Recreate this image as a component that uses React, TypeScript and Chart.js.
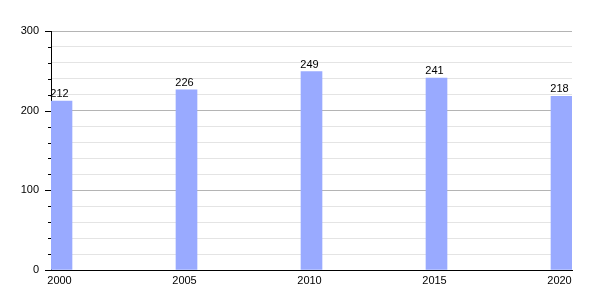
import React, { useEffect, useRef } from "react";
import { Chart, registerables } from "chart.js";

Chart.register(...registerables);

const years = [2000, 2005, 2010, 2015, 2020];
const values = [212, 226, 249, 241, 218];
const yMajorTicks = [0, 100, 200, 300];

const FONT = "'Liberation Sans', Arial, Helvetica, sans-serif";

const minorTickPlugin = {
  id: "minorTicks",
  afterDraw(chart: any) {
    const y = chart.scales.y;
    const ctx = chart.ctx;
    ctx.save();
    ctx.strokeStyle = "#000";
    ctx.lineWidth = 1;
    y.ticks.forEach((t: any) => {
      const major = t.value % 100 === 0;
      const len = major ? 6 : 3;
      const py = Math.round(y.getPixelForValue(t.value)) + 0.5;
      ctx.beginPath();
      ctx.moveTo(y.right - len, py);
      ctx.lineTo(y.right, py);
      ctx.stroke();
    });
    ctx.restore();
  },
};

const valueLabelPlugin = {
  id: "valueLabels",
  afterDatasetsDraw(chart: any) {
    const ctx = chart.ctx;
    const meta = chart.getDatasetMeta(0);
    ctx.save();
    ctx.font = `11px ${FONT}`;
    ctx.fillStyle = "#000";
    ctx.textAlign = "center";
    ctx.textBaseline = "alphabetic";
    meta.data.forEach((bar: any, i: number) => {
      ctx.fillText(String(values[i]), bar.x - 2, bar.y - 4);
    });
    ctx.restore();
  },
};

export default function App() {
  const ref = useRef<HTMLCanvasElement>(null);
  useEffect(() => {
    if (!ref.current) return;
    const chart = new Chart(ref.current, {
      type: "bar",
      data: {
        datasets: [
          {
            data: years.map((yr, i) => ({ x: yr, y: values[i] })),
            backgroundColor: "#99aaff",
            borderWidth: 0,
            barThickness: 21,
          },
        ],
      },
      options: {
        responsive: false,
        animation: false,
        layout: { padding: { left: 0, right: 28, top: 31, bottom: 0 } },
        plugins: { legend: { display: false }, tooltip: { enabled: false } },
        scales: {
          x: {
            type: "linear",
            offset: false,
            min: years[0] - 0.42,
            max: years[years.length - 1] + 0.42,
            afterBuildTicks: (s: any) => {
              s.ticks = years.map((v) => ({ value: v }));
            },
            afterFit: (s: any) => {
              s.height = 30;
            },
            grid: { display: false, drawTicks: false, offset: false },
            border: { display: true, color: "#000", width: 1 },
            ticks: {
              padding: 4,
              labelOffset: -2,
              color: "#000",
              font: { family: FONT, size: 11 },
              maxRotation: 0,
              autoSkip: false,
              callback: (v: any) => String(v),
            },
          },
          y: {
            min: 0,
            max: 300,
            afterFit: (s: any) => {
              s.width = 51;
            },
            ticks: {
              stepSize: 20,
              maxTicksLimit: 100,
              autoSkip: false,
              padding: 12,
              color: "#000",
              font: { family: FONT, size: 11 },
              callback: (v: any) => (yMajorTicks.includes(v) ? String(v) : ""),
            },
            grid: {
              drawTicks: false,
              color: (c: any) =>
                c.tick && c.tick.value % 100 === 0 ? "#b4b4b4" : "#e4e4e4",
            },
            border: { display: true, color: "#000", width: 1 },
          },
        },
      },
      plugins: [minorTickPlugin, valueLabelPlugin],
    });
    return () => chart.destroy();
  }, []);
  return (
    <div style={{ position: "fixed", left: 0, top: 0, width: 600, height: 300, background: "#fff" }}>
      <canvas ref={ref} width={600} height={300} />
    </div>
  );
}
